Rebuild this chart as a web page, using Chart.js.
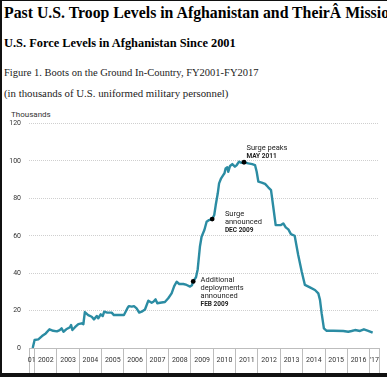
<!DOCTYPE html>
<html>
<head>
<meta charset="utf-8">
<script src="https://cdn.jsdelivr.net/npm/chart.js@4.4.1/dist/chart.umd.min.js"></script>
<style>
  html, body { margin: 0; padding: 0; background: #fff; }
  body { position: relative; width: 387px; height: 377px; overflow: hidden; }
  .txt { position: absolute; left: 4px; white-space: nowrap; font-family: "Liberation Serif", serif; color: #000; line-height: 1; }
  #title { top: 5px; font-size: 15.8px; font-weight: bold; }
  #heading { top: 36.5px; font-size: 12.4px; font-weight: bold; }
  #figure { top: 67.5px; font-size: 10.5px; color: #222; }
  #units { top: 88px; font-size: 10.8px; color: #222; }
  #ylabel { position: absolute; left: 11px; top: 110px; font: 8px Roboto, sans-serif; color: #333; }
  #chart { position: absolute; left: 0; top: 110px; }
  .edge { position: absolute; background: #111; }
</style>
</head>
<body>
<div class="txt" id="title">Past U.S. Troop Levels in Afghanistan and TheirÂ Mission</div>
<div class="txt" id="heading">U.S. Force Levels in Afghanistan Since 2001</div>
<div class="txt" id="figure">Figure 1. Boots on the Ground In-Country, FY2001-FY2017</div>
<div class="txt" id="units">(in thousands of U.S. uniformed military personnel)</div>
<div id="ylabel">Thousands</div>
<canvas id="chart" width="387" height="263"></canvas>
<div class="edge" style="left:0;top:0;width:387px;height:1px"></div>
<div class="edge" style="left:0;top:0;width:2px;height:377px"></div>
<div class="edge" style="left:0;top:373px;width:387px;height:4px"></div>
<script>
// months counted from Oct 2001 (start of FY2002)
const troopMonths = [
  -1, 0, 2, 4, 6, 8, 10, 12, 13.5, 14.5, 15.5, 17, 19, 19.6, 20.3, 21.7, 23.5, 25.3, 26.2,
  27, 28.8, 30.7, 31.9, 33.4, 34.2, 35.5, 36.6, 37.4, 39, 41.4, 42.6, 48, 50, 50.7, 52.2,
  53.4, 54.8, 56.2, 57.5, 59.3, 61.1, 62.9, 63.8, 65, 65.9, 67.4, 70, 71.8, 73.6, 75, 76.3,
  77.7, 79.9, 81.7, 83.5, 84.5, 85.2, 86.7, 87.6, 88.8, 89.7, 91.2, 92.4, 93.7, 95.4, 96.5,
  97.3, 98.4, 99.1, 100.2, 101.4, 102, 102.6, 103.5, 104, 105, 106.2, 107.6, 108.6, 109.8,
  110.9, 112.5, 114.8, 116.9, 118.4, 119.3, 120.2, 122, 123.8, 125.5, 127, 128.2, 129.5,
  132.3, 133.6, 134.9, 136.3, 137.7, 139.7, 141.6, 143.5, 145.2, 147.9, 150.6, 152.4, 153.3,
  154.2, 155.4, 156.9, 160.5, 165.8, 168.5, 170.3, 172.1, 174.8, 176.9, 179.2, 181.6
];
const troopLevels = [
  0, 4.3, 4.6, 6.4, 7.8, 10, 9.2, 8.9, 9.6, 10.5, 8.7, 10, 11.1, 12.3, 9.6, 11.1, 12.8, 13.2, 12.7,
  19.2, 17.6, 16.7, 15.3, 17.1, 15.9, 18, 17.1, 19.4, 18.9, 18.9, 17.6, 17.6, 21.5, 22.4, 22.1,
  22.4, 21.2, 18.9, 19.4, 20.6, 25.3, 24.2, 24.7, 26, 23.9, 24.2, 24.6, 26.6, 29.2, 33.1, 35.4,
  34.2, 34.2, 33.7, 32.8, 33.5, 35.6, 37.8, 42, 54.1, 59.5, 63.1, 67.5, 68.4, 68.9, 71.1,
  76.4, 82.7, 88, 90.7, 92.5, 93.4, 96, 96.6, 94.2, 97.3, 98.3, 96.9, 97.8, 99.6,
  99, 99.3, 98.7, 98.3, 97.8, 94.2, 88.9, 88.4, 87.7, 85.9, 84.4, 75.5, 65.7,
  65.7, 66.6, 64.5, 63.4, 60.9, 60, 49.7, 40.8, 33.7, 32.4, 31, 29.2, 25.7,
  18.5, 10.5, 9.2, 9.2, 9.1, 8.7, 9.1, 9.6, 9.1, 10, 9.2, 8.2
];

// fiscal year bands on the x axis
const fyStarts = [-3, 0, 12, 24, 36, 48, 60, 72, 84, 96, 108, 120, 132, 144, 156, 168, 180];
const fyEnds = [0, 12, 24, 36, 48, 60, 72, 84, 96, 108, 120, 132, 144, 156, 168, 180, 185];
const fyLabels = ['01', '2002', '2003', '2004', '2005', '2006', '2007', '2008', '2009',
  '2010', '2011', '2012', '2013', '2014', '2015', '2016', "'17"];

const yTicks = [0, 20, 40, 60, 80, 100, 120];

// annotated events
const markerMonths = [85.2, 95.4, 112.5];
const markerLevels = [35.6, 68.9, 99.3];
const markerNotes = [
  ['Additional', 'deployments', 'announced', 'FEB 2009'],
  ['Surge', 'announced', 'DEC 2009'],
  ['Surge peaks', 'MAY 2011']
];
const noteOffsets = [[7.4, -1.3], [12.7, -5], [2.4, -13.7]];

const FONT = 'Roboto, sans-serif';
const boundaries = new Set([...fyStarts, ...fyEnds]);
const centerLabel = new Map(fyStarts.map((s, i) => [(s + fyEnds[i]) / 2, fyLabels[i]]));

const notesPlugin = {
  id: 'notes',
  afterDatasetsDraw(chart) {
    const { ctx, scales: { x, y } } = chart;
    ctx.save();
    ctx.fillStyle = '#222';
    ctx.textBaseline = 'middle';
    ctx.textAlign = 'left';
    markerNotes.forEach((lines, i) => {
      const px = x.getPixelForValue(markerMonths[i]) + noteOffsets[i][0];
      const py = y.getPixelForValue(markerLevels[i]) + noteOffsets[i][1];
      lines.forEach((line, j) => {
        const last = j === lines.length - 1;
        ctx.font = last ? 'bold 6.5px ' + FONT : '7.5px ' + FONT;
        ctx.fillText(line, px, py + j * 8);
      });
    });
    ctx.restore();
  }
};

new Chart(document.getElementById('chart'), {
  type: 'line',
  data: {
    datasets: [{
      data: troopMonths.map((m, i) => ({ x: m, y: troopLevels[i] })),
      borderColor: '#2b8ca3',
      borderWidth: 2.4,
      borderJoinStyle: 'round',
      pointRadius: 0,
      tension: 0,
      order: 2
    }, {
      data: markerMonths.map((m, i) => ({ x: m, y: markerLevels[i] })),
      showLine: false,
      pointRadius: 2.4,
      pointBackgroundColor: '#000',
      pointBorderWidth: 0,
      order: 1
    }]
  },
  options: {
    responsive: false,
    animation: false,
    devicePixelRatio: 1,
    layout: { padding: { left: 0, right: 8, top: 13.5, bottom: 0 } },
    plugins: { legend: { display: false }, tooltip: { enabled: false } },
    scales: {
      x: {
        type: 'linear',
        min: fyStarts[0],
        max: fyEnds[fyEnds.length - 1],
        afterBuildTicks: (scale) => {
          const vals = [...boundaries, ...centerLabel.keys()].sort((a, b) => a - b);
          scale.ticks = vals.map(v => ({ value: v }));
        },
        afterFit: (scale) => { scale.height = 25; },
        grid: {
          drawOnChartArea: false,
          drawTicks: true,
          tickLength: 25,
          color: (c) => (c.tick && boundaries.has(c.tick.value)) ? '#bdbdbd' : 'rgba(0,0,0,0)'
        },
        border: { display: true, color: '#bdbdbd', width: 1 },
        ticks: {
          autoSkip: false,
          maxRotation: 0,
          padding: -17,
          color: '#333',
          font: { family: FONT, size: 7 },
          callback: (v) => centerLabel.get(v) || ''
        }
      },
      y: {
        min: 0,
        max: 120,
        afterBuildTicks: (scale) => { scale.ticks = yTicks.map(v => ({ value: v })); },
        afterFit: (scale) => { scale.width = 29; },
        grid: {
          drawTicks: false,
          color: (c) => (c.tick && c.tick.value === 0) ? 'rgba(0,0,0,0)' : '#cfcfcf',
          lineWidth: 1
        },
        border: { display: false, dash: [1, 1] },
        ticks: {
          padding: 8,
          color: '#333',
          font: { family: FONT, size: 7 }
        }
      }
    }
  },
  plugins: [notesPlugin]
});
</script>
</body>
</html>
